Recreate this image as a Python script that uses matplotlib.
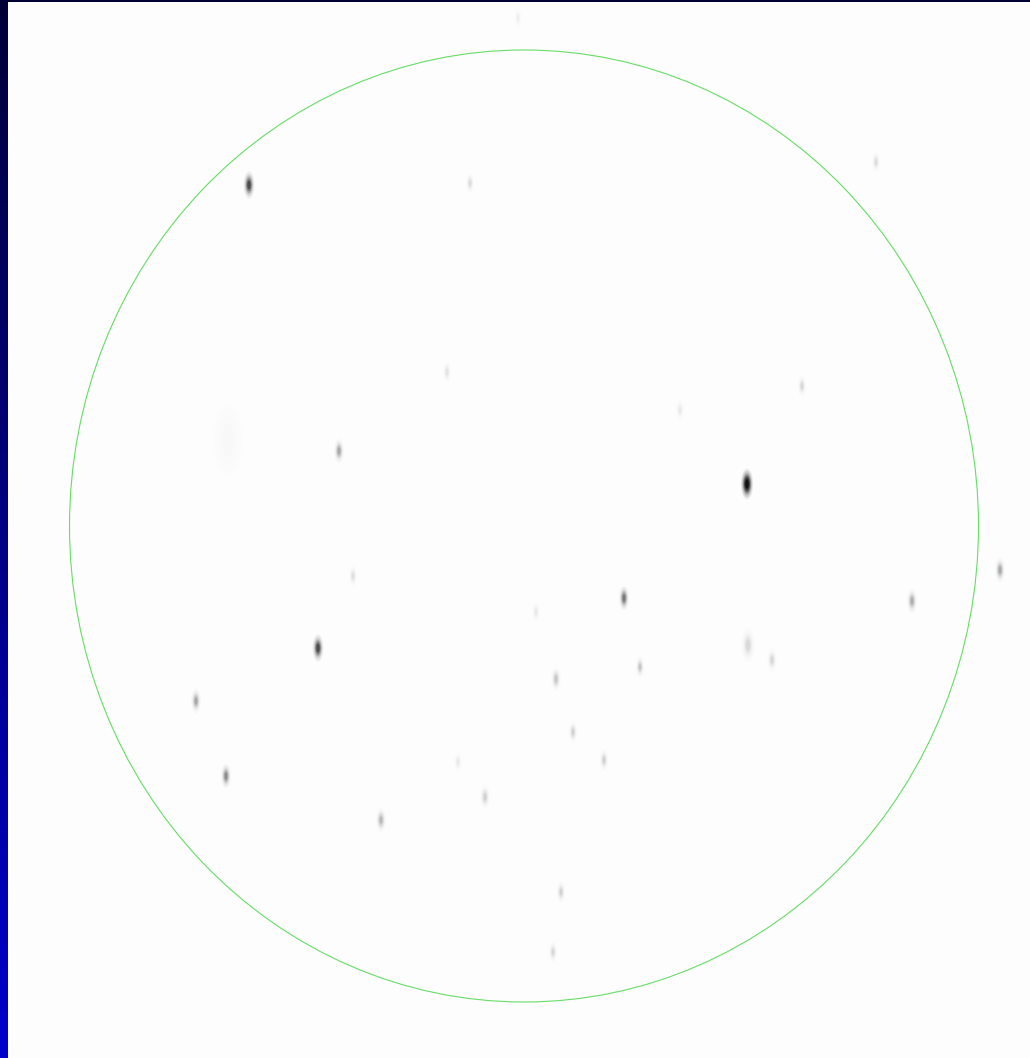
import numpy as np
import matplotlib
matplotlib.use('Agg')
import matplotlib.pyplot as plt
from matplotlib.patches import Ellipse
from matplotlib.path import Path

# star positions (image pixels) and darkness 0..1
star_x = [249, 747, 318, 624, 226, 196, 339, 1000, 912, 381, 556, 640, 573, 604,
          485, 561, 553, 470, 876, 802, 748, 772, 353, 447, 680, 536, 458, 518, 228]
star_y = [185, 484, 648, 598, 776, 701, 451, 570, 601, 820, 679, 667, 732, 760,
          797, 892, 952, 183, 162, 386, 645, 660, 576, 372, 410, 612, 762, 18, 440]
star_level = [0.55, 1.0, 0.55, 0.35, 0.28, 0.2, 0.2, 0.2, 0.18, 0.15, 0.12, 0.12, 0.09, 0.09,
              0.09, 0.09, 0.08, 0.07, 0.07, 0.08, 0.08, 0.08, 0.06, 0.05, 0.04, 0.04, 0.04, 0.03, 0.012]
star_size = [1, 1.1, 1, 0.9, 0.9, 0.9, 0.9, 0.9, 0.9, 0.9, 0.9, 0.8, 0.8, 0.8,
             0.9, 0.8, 0.8, 0.8, 0.8, 0.8, 1.3, 0.9, 0.8, 0.8, 0.8, 0.8, 0.8, 0.7, 4.0]

W, H = 1030, 1058
strip = 8
top = 2

fig = plt.figure(figsize=(W / 100, H / 100), dpi=100)
fig.patch.set_facecolor('#000033')

# blue gradient strip on the left
ax_s = fig.add_axes([0, 0, strip / W, 1])
grad = np.linspace(0, 1, 256).reshape(-1, 1)
cmap = matplotlib.colors.LinearSegmentedColormap.from_list('b', ['#000038', '#0000cc'])
ax_s.imshow(grad, aspect='auto', cmap=cmap, extent=[0, 1, 1, 0])
ax_s.set_axis_off()

ax = fig.add_axes([strip / W, 0, 1 - strip / W, 1 - top / H])
ax.set_facecolor('#fdfdfd')
ax.set_xlim(strip, W)
ax.set_ylim(H, top)
ax.set_xticks([])
ax.set_yticks([])
for sp in ax.spines.values():
    sp.set_visible(False)

t = np.linspace(0, 2 * np.pi, 60)
star_marker = Path(np.column_stack([0.4 * np.cos(t), np.sin(t)]))

xs = np.array(star_x)
ys = np.array(star_y)
lv = np.array(star_level)
sz = np.array(star_size)
# stacked translucent layers give a soft blur
for scale, a in [(2.0, 0.08), (1.7, 0.12), (1.4, 0.2), (1.15, 0.3), (0.9, 0.45), (0.6, 0.7)]:
    cols = np.zeros((len(xs), 4))
    cols[:, 3] = np.clip(lv * a, 0, 1)
    ax.scatter(xs, ys, s=(10 * sz * scale) ** 2, marker=star_marker,
               c=cols, linewidths=0)

ax.add_patch(Ellipse((524, 526), 909, 952, fill=False, edgecolor='#66dd66', lw=0.8))

fig.savefig('out.png', dpi=100, facecolor=fig.get_facecolor())
